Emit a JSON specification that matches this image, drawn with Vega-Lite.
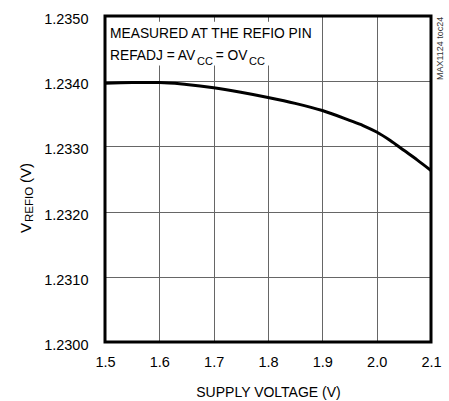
{
  "$schema": "https://vega.github.io/schema/vega-lite/v6.json",
  "width": 326,
  "height": 326,
  "autosize": {"type": "none"},
  "padding": {"left": 105, "top": 16, "right": 18, "bottom": 59},
  "background": "white",
  "config": {"view": {"stroke": null}, "font": "Liberation Sans", "text": {"font": "Liberation Sans", "color": "black"}},
  "data": {"values": [{"note": "annotation"}]},
  "datasets": {
    "curve": [
      {"supply": 1.5, "vrefio": 1.23397},
      {"supply": 1.55, "vrefio": 1.23398},
      {"supply": 1.6, "vrefio": 1.23398},
      {"supply": 1.65, "vrefio": 1.23395},
      {"supply": 1.7, "vrefio": 1.2339},
      {"supply": 1.75, "vrefio": 1.23383},
      {"supply": 1.8, "vrefio": 1.23375},
      {"supply": 1.85, "vrefio": 1.23366},
      {"supply": 1.9, "vrefio": 1.23355},
      {"supply": 1.95, "vrefio": 1.2334},
      {"supply": 1.975, "vrefio": 1.23332},
      {"supply": 2.0, "vrefio": 1.23322},
      {"supply": 2.025, "vrefio": 1.23309},
      {"supply": 2.05, "vrefio": 1.23294},
      {"supply": 2.075, "vrefio": 1.23279},
      {"supply": 2.1, "vrefio": 1.23263}
    ]
  },
  "layer": [
    {
      "data": {"name": "curve"},
      "mark": {"type": "line", "color": "black", "strokeWidth": 3, "interpolate": "monotone"},
      "encoding": {
        "x": {
          "field": "supply", "type": "quantitative",
          "scale": {"domain": [1.5, 2.1], "nice": false, "zero": false},
          "axis": {
            "values": [1.5, 1.6, 1.7, 1.8, 1.9, 2.0, 2.1], "format": ".1f",
            "grid": true, "gridColor": "#666666", "gridWidth": 1, "gridOpacity": 1,
            "domain": false, "ticks": false, "labelFlush": false,
            "labelPadding": 13, "labelFont": "Liberation Sans", "labelFontSize": 14.5, "labelColor": "black",
            "title": "SUPPLY VOLTAGE (V)", "titleFont": "Liberation Sans", "titleFontSize": 14,
            "titleFontWeight": "normal", "titleColor": "black", "titleY": 54, "titleBaseline": "alphabetic"
          }
        },
        "y": {
          "field": "vrefio", "type": "quantitative",
          "scale": {"domain": [1.23, 1.235], "nice": false, "zero": false},
          "axis": {
            "values": [1.23, 1.231, 1.232, 1.233, 1.234, 1.235], "format": ".4f",
            "grid": true, "gridColor": "#666666", "gridWidth": 1, "gridOpacity": 1,
            "domain": false, "ticks": false, "labelFlush": false,
            "labelPadding": 17, "labelOffset": 3.5, "labelFont": "Liberation Sans", "labelFontSize": 14.5, "labelColor": "black",
            "title": null
          }
        }
      }
    },
    {
      "mark": {"type": "rect", "fill": "white", "strokeWidth": 0},
      "encoding": {
        "x": {"datum": 1.5, "type": "quantitative"},
        "x2": {"datum": 1.8921},
        "y": {"datum": 1.23491, "type": "quantitative"},
        "y2": {"datum": 1.23424}
      }
    },
    {
      "mark": {"type": "rect", "filled": false, "color": "black", "strokeWidth": 3},
      "encoding": {
        "x": {"datum": 1.5, "type": "quantitative"},
        "x2": {"datum": 2.1},
        "y": {"datum": 1.23, "type": "quantitative"},
        "y2": {"datum": 1.235}
      }
    },
    {
      "mark": {"type": "text", "align": "left", "baseline": "alphabetic", "fontSize": 13.8},
      "encoding": {
        "x": {"datum": 1.5092, "type": "quantitative"},
        "y": {"datum": 1.234655, "type": "quantitative"},
        "text": {"value": "MEASURED AT THE REFIO PIN"}
      }
    },
    {
      "mark": {"type": "text", "align": "left", "baseline": "alphabetic", "fontSize": 13.8},
      "encoding": {
        "x": {"datum": 1.5092, "type": "quantitative"},
        "y": {"datum": 1.234325, "type": "quantitative"},
        "text": {"value": "REFADJ = AV"}
      }
    },
    {
      "mark": {"type": "text", "align": "left", "baseline": "alphabetic", "fontSize": 11},
      "encoding": {
        "x": {"datum": 1.6694, "type": "quantitative"},
        "y": {"datum": 1.234256, "type": "quantitative"},
        "text": {"value": "CC"}
      }
    },
    {
      "mark": {"type": "text", "align": "left", "baseline": "alphabetic", "fontSize": 13.8},
      "encoding": {
        "x": {"datum": 1.7037, "type": "quantitative"},
        "y": {"datum": 1.234325, "type": "quantitative"},
        "text": {"value": "= OV"}
      }
    },
    {
      "mark": {"type": "text", "align": "left", "baseline": "alphabetic", "fontSize": 11},
      "encoding": {
        "x": {"datum": 1.765, "type": "quantitative"},
        "y": {"datum": 1.234256, "type": "quantitative"},
        "text": {"value": "CC"}
      }
    },
    {
      "mark": {"type": "text", "align": "left", "baseline": "alphabetic", "fontSize": 9, "angle": 270, "color": "#333333"},
      "encoding": {
        "x": {"datum": 2.1221, "type": "quantitative"},
        "y": {"datum": 1.234018, "type": "quantitative"},
        "text": {"value": "MAX1124 toc24"}
      }
    },
    {
      "mark": {"type": "text", "align": "left", "baseline": "alphabetic", "fontSize": 15, "angle": 270},
      "encoding": {
        "x": {"datum": 1.3638, "type": "quantitative"},
        "y": {"datum": 1.231672, "type": "quantitative"},
        "text": {"value": "V"}
      }
    },
    {
      "mark": {"type": "text", "align": "left", "baseline": "alphabetic", "fontSize": 11.5, "angle": 270},
      "encoding": {
        "x": {"datum": 1.3675, "type": "quantitative"},
        "y": {"datum": 1.23184, "type": "quantitative"},
        "text": {"value": "REFIO"}
      }
    },
    {
      "mark": {"type": "text", "align": "left", "baseline": "alphabetic", "fontSize": 15, "angle": 270},
      "encoding": {
        "x": {"datum": 1.3638, "type": "quantitative"},
        "y": {"datum": 1.232439, "type": "quantitative"},
        "text": {"value": "(V)"}
      }
    }
  ]
}
